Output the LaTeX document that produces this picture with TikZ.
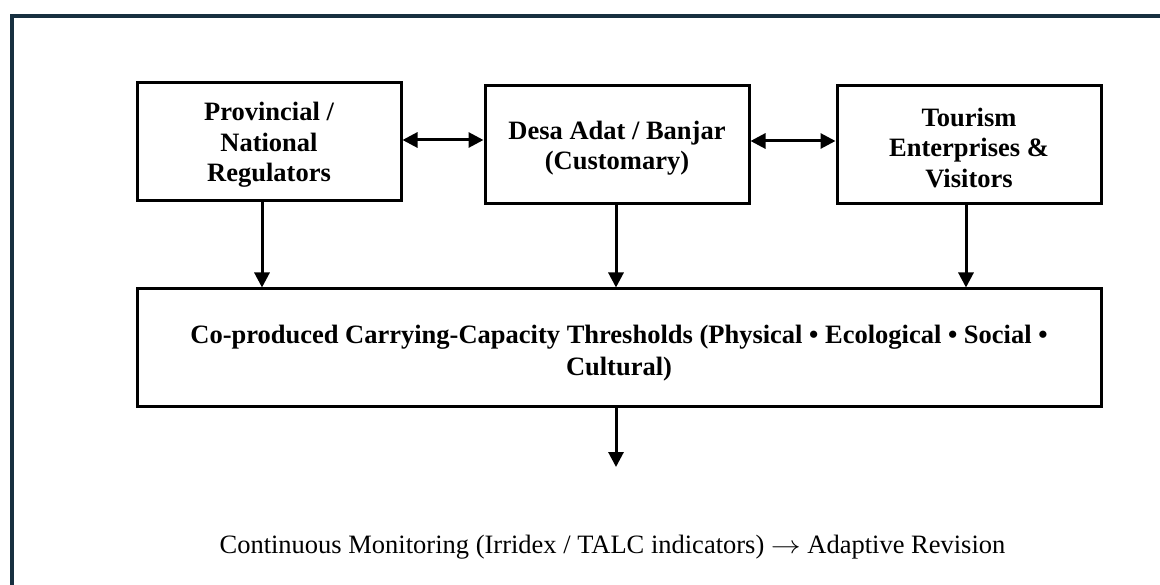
\documentclass[tikz,border=0pt]{standalone}
\usepackage{fontspec}
\usepackage{graphicx}
\setmainfont{Liberation Serif}
\usetikzlibrary{arrows.meta}
\definecolor{framenavy}{RGB}{23,48,64}
\begin{document}
\begin{tikzpicture}[x=1pt,y=-1pt,
  stakebox/.style={draw=black,line width=3pt,minimum width=264pt,minimum height=118pt,
    inner sep=0pt,align=center,font=\fontsize{26.5}{30.5}\selectfont\bfseries},
  bigbox/.style={draw=black,line width=3pt,minimum width=964pt,minimum height=118pt,
    inner sep=0pt,align=center,font=\fontsize{26.5}{32}\selectfont\bfseries},
  arr/.style={line width=3pt,-{Triangle[length=15pt,width=15pt]}},
  dblarr/.style={line width=3pt,{Triangle[length=15pt,width=15pt]}-{Triangle[length=15pt,width=15pt]}},
  monitor/.style={inner sep=0pt,font=\fontsize{26.5}{31}\selectfont}
]
\useasboundingbox (0,0) rectangle (1160,585);
\draw[framenavy,line width=4pt] (12,585) -- (12,16.5) -- (1160,16.5);

\node[stakebox] (b1) at (269,141.5) {\rule{0pt}{25pt}Provincial /\\National\\Regulators};
\node[stakebox] (b2) at (617,145) {\rule{0pt}{25pt}Desa Adat / Banjar\\(Customary)};
\node[stakebox] (b3) at (969,144.5) {\rule{0pt}{25pt}Tourism\\Enterprises \&\\Visitors};
\node[bigbox] (big) at (619,348) {\rule{0pt}{28pt}Co-produced Carrying-Capacity Thresholds (Physical • Ecological • Social •\\Cultural)};

\draw[dblarr] (b1.east |- 0,140) -- (b2.west |- 0,140);
\draw[dblarr] (b2.east |- 0,141) -- (b3.west |- 0,141);

\draw[arr] ([xshift=-7pt]b1.south) -- ([xshift=-7pt]b1.south |- big.north);
\draw[arr] ([xshift=-1pt]b2.south) -- ([xshift=-1pt]b2.south |- big.north);
\draw[arr] ([xshift=-3pt]b3.south) -- ([xshift=-3pt]b3.south |- big.north);

\coordinate (mtop) at (616,467);
\draw[arr] (big.south -| mtop) -- (mtop);

\node[monitor] (mon) at (612.5,547) {Continuous Monitoring (Irridex / TALC indicators) \scalebox{1.2}[1]{$\rightarrow$} Adaptive Revision};
\end{tikzpicture}
\end{document}
